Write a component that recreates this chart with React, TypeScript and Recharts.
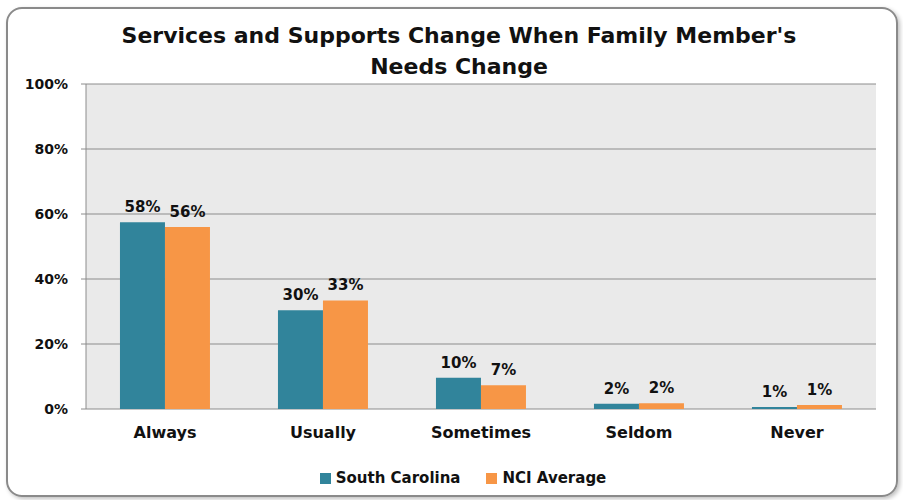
import { Bar, BarChart, CartesianGrid, XAxis, YAxis, LabelList } from 'recharts';

const categories = ['Always', 'Usually', 'Sometimes', 'Seldom', 'Never'];
const southCarolina = [57.5, 30.4, 9.6, 1.6, 0.6];
const nciAverage = [56, 33.4, 7.3, 1.8, 1.2];
const yTicks = [0, 20, 40, 60, 80, 100];
const boundaryTicks = [0, 1, 2, 3, 4, 5];

const TEAL = '#31849B';
const ORANGE = '#F79646';
const FONT = "'DejaVu Sans', sans-serif";

const series = [
  { key: 'sc', name: 'South Carolina', color: TEAL },
  { key: 'nci', name: 'NCI Average', color: ORANGE },
];

const data = categories.map((name, i) => ({
  name,
  sc: southCarolina[i],
  nci: nciAverage[i],
}));

const pct = (v: any) => `${Math.round(Number(v))}%`;
const labelStyle = { fill: '#111', fontSize: 15, fontWeight: 700, fontFamily: FONT };

export default function App() {
  return (
    <div style={{ position: 'absolute', left: 0, top: 0, width: 903, height: 500, background: '#fff', fontFamily: FONT, color: '#111' }}>
      <div
        style={{
          position: 'absolute',
          left: 6,
          top: 7,
          width: 888,
          height: 486,
          border: '2px solid #8a8a8a',
          borderRadius: 16,
          boxShadow: '2px 2px 4px rgba(0,0,0,0.25)',
        }}
      />
      <div
        style={{
          position: 'absolute',
          left: 0,
          top: 20,
          width: 918,
          textAlign: 'center',
          fontWeight: 700,
          fontSize: 22,
          lineHeight: '31px',
        }}
      >
        Services and Supports Change When Family Member's
        <br />
        Needs Change
      </div>
      <BarChart
        width={903}
        height={500}
        data={data}
        margin={{ top: 84, right: 27, bottom: 39, left: 0 }}
        barGap={0}
        barCategoryGap="21.5%"
        style={{ position: 'absolute', left: 0, top: 0 }}
      >
        <CartesianGrid vertical={false} stroke="#8c8c8c" fill="#EAEAEA" />
        <XAxis
          xAxisId="bounds"
          type="number"
          domain={[0, 5]}
          ticks={boundaryTicks}
          tickFormatter={() => ''}
          stroke="#8c8c8c"
          tickSize={5}
          height={0}
        />
        <XAxis
          dataKey="name"
          axisLine={false}
          tickLine={false}
          height={52}
          tickMargin={12}
          tick={{ fill: '#111', fontSize: 16, fontWeight: 700, fontFamily: FONT }}
        />
        <YAxis
          domain={[0, 100]}
          ticks={yTicks}
          tickFormatter={(v) => `${v}%`}
          width={86}
          stroke="#8c8c8c"
          tickSize={5}
          tickMargin={13}
          tick={{ fill: '#111', fontSize: 14, fontWeight: 700, fontFamily: FONT }}
        />
        <Bar dataKey="sc" name="South Carolina" fill={TEAL} isAnimationActive={false}>
          <LabelList dataKey="sc" position="top" offset={10} formatter={pct} style={labelStyle} />
        </Bar>
        <Bar dataKey="nci" name="NCI Average" fill={ORANGE} isAnimationActive={false}>
          <LabelList dataKey="nci" position="top" offset={10} formatter={pct} style={labelStyle} />
        </Bar>
      </BarChart>
      <div
        style={{
          position: 'absolute',
          left: 0,
          top: 468,
          width: 926,
          display: 'flex',
          justifyContent: 'center',
          gap: 26,
          fontSize: 15,
          fontWeight: 700,
          lineHeight: '20px',
        }}
      >
        {series.map((s) => (
          <div key={s.key} style={{ display: 'flex', alignItems: 'center', gap: 5 }}>
            <span style={{ width: 11, height: 11, background: s.color, display: 'inline-block' }} />
            <span>{s.name}</span>
          </div>
        ))}
      </div>
    </div>
  );
}
